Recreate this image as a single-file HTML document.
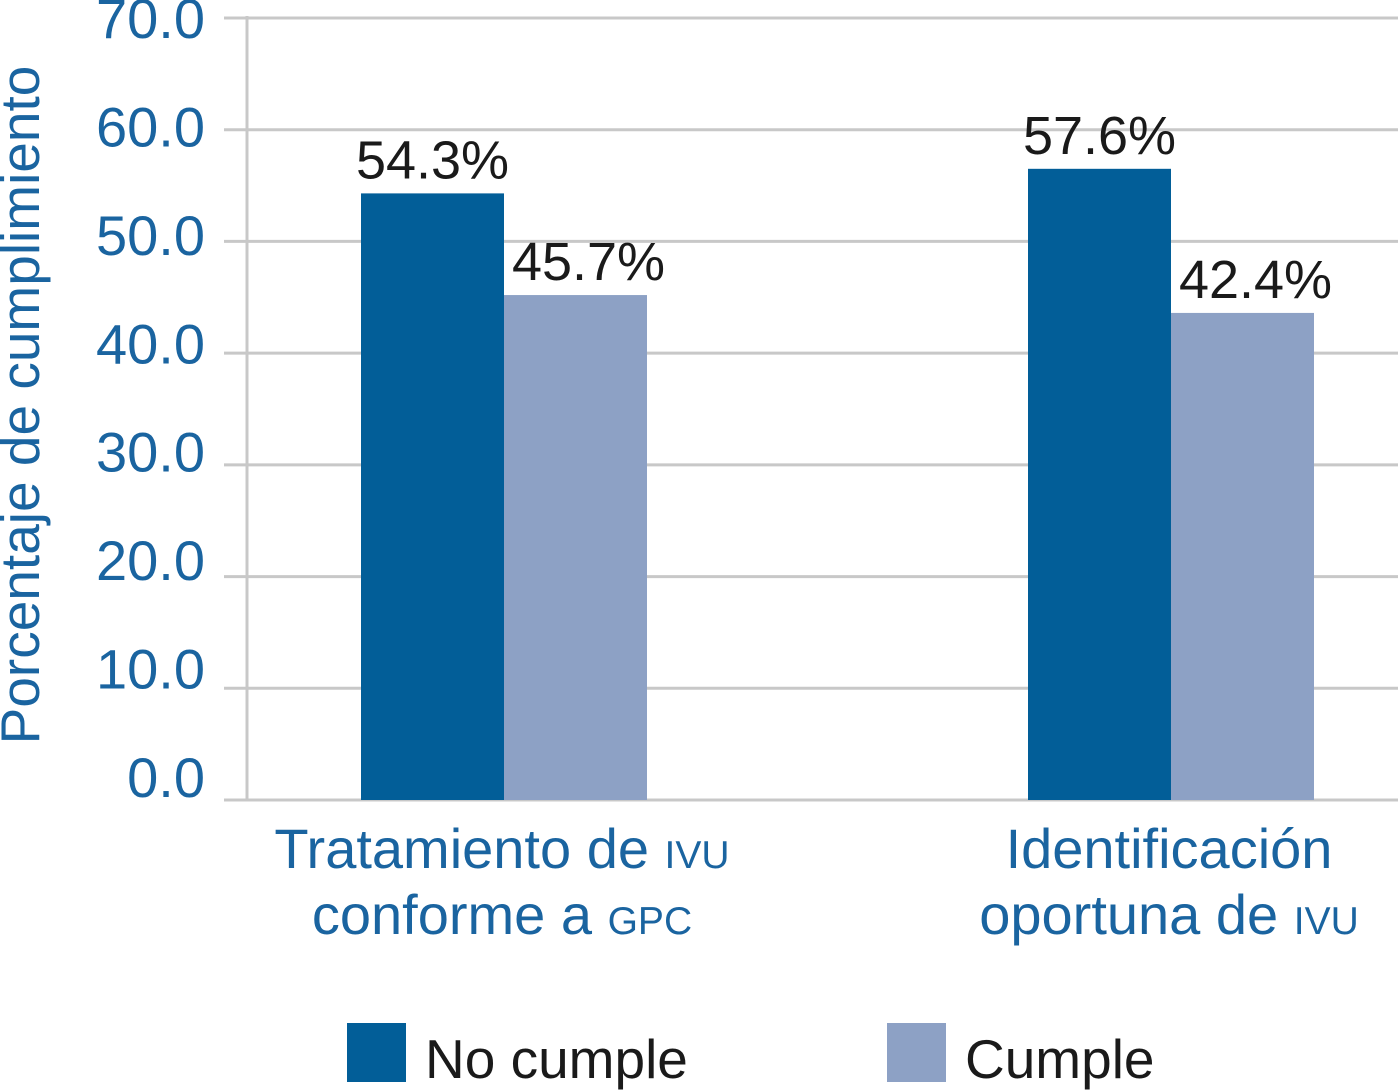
<!DOCTYPE html>
<html><head><meta charset="utf-8"><style>
html,body{margin:0;padding:0;background:#fff;width:1398px;height:1092px;overflow:hidden}
svg{display:block;font-family:"Liberation Sans",Arial,sans-serif}
</style></head><body>
<svg id="chart" width="1398" height="1092" viewBox="0 0 1398 1092"></svg>
<script>
const categories=[["Tratamiento de ","IVU","conforme a ","GPC"],["Identificación","","oportuna de ","IVU"]];
const seriesNames=["No cumple","Cumple"];
const noCumple=[54.3,56.5];
const cumple=[45.2,43.6];
const noCumpleLabels=["54.3%","57.6%"];
const cumpleLabels=["45.7%","42.4%"];
const yTicks=[0,10,20,30,40,50,60,70];
const yTickLabels=["0.0","10.0","20.0","30.0","40.0","50.0","60.0","70.0"];

const NS="http://www.w3.org/2000/svg";
const svg=document.getElementById('chart');
const y0=800,y70=18,xAxis=247;
const y=v=>y0-(v/70)*(y0-y70);
const labelY=v=>797-(v/70)*759;
const centers=[504,1171];
const bw=143;
const colors=["#025e98","#8da1c5"];
const labelShift=[0,13];
function mk(t,a,p){const e=document.createElementNS(NS,t);for(const k in a)e.setAttribute(k,a[k]);(p||svg).appendChild(e);return e;}

yTicks.forEach((v,i)=>{
  const g=mk('line',{x1:224,x2:1398,y1:y(v),y2:y(v),stroke:'#c8c8c8','stroke-width':3});
  
  
  const t=mk('text',{x:205,y:labelY(v),'text-anchor':'end','font-size':56,fill:'#1a64a0'});
  t.textContent=yTickLabels[i];
  
  
});
const ax=mk('line',{x1:xAxis,x2:xAxis,y1:16,y2:800,stroke:'#c8c8c8','stroke-width':3});



const yt=mk('text',{x:0,y:0,transform:'translate(39,405) rotate(-90)','text-anchor':'middle','font-size':55,fill:'#1a64a0'});
yt.textContent='Porcentaje de cumplimiento';



const series=[noCumple,cumple],labels=[noCumpleLabels,cumpleLabels];
centers.forEach((c,ci)=>{
  series.forEach((s,si)=>{
    const x=si===0?c-bw:c;
    const r=mk('rect',{x:x,y:y(s[ci]),width:bw,height:y0-y(s[ci]),fill:colors[si]});
    
    
    const t=mk('text',{x:x+bw/2+labelShift[si],y:y(s[ci])-15,'text-anchor':'middle','font-size':54,fill:'#1a1a1a'});
    t.textContent=labels[si][ci];
    
    
  });
  const cat=categories[ci];
  [[cat[0],cat[1],868],[cat[2],cat[3],934]].forEach(([a,b,by])=>{
    const t=mk('text',{x:c-2,y:by,'text-anchor':'middle','font-size':56,fill:'#1a64a0'});
    
    
    const s1=mk('tspan',{},t);s1.textContent=a;
    if(b){const s2=mk('tspan',{'font-size':39},t);s2.textContent=b;}
  });
});

[[347,425],[887,965]].forEach(([sx,tx],i)=>{
  const r=mk('rect',{x:sx,y:1023,width:59,height:59,fill:colors[i]});
  
  
  const t=mk('text',{x:tx,y:1078,'font-size':55,fill:'#1a1a1a'});
  t.textContent=seriesNames[i];
  
  
});
</script>
</body></html>
